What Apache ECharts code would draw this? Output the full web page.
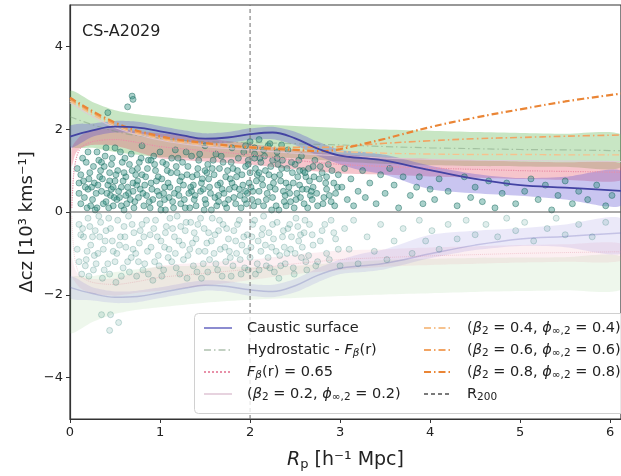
<!DOCTYPE html>
<html>
<head>
<meta charset="utf-8">
<script src="https://cdn.jsdelivr.net/npm/echarts@6/dist/echarts.min.js"></script>
<style>
  html, body { margin: 0; padding: 0; background: #fff; }
  #chart { width: 621px; height: 476px; }
</style>
</head>
<body>
<div id="chart"></div>
<script>
const FONT = "DejaVu Sans";

// axes
const xMax = 6.12;
const yMin = -5;
const yMax = 5;
const xTicks = [0, 1, 2, 3, 4, 5, 6];
const yTicks = [-4, -2, 0, 2, 4];
const r200 = 2;

// hydrostatic band (green), upper half; lower half is the mirror
const bandX = [0, 0.25, 0.5, 0.75, 1.0, 1.5, 2.0, 2.5, 3.0, 3.5, 4.0, 4.5, 5.0, 5.5, 6.12];
const hydroTop = [2.92, 2.66, 2.46, 2.36, 2.3, 2.19, 2.12, 2.08, 2.03, 1.99, 1.96, 1.93, 1.91, 1.89, 1.87];
const hydroLow = [1.6, 1.55, 1.45, 1.38, 1.32, 1.3, 1.33, 1.3, 1.22, 1.16, 1.13, 1.11, 1.1, 1.09, 1.08];

// F_beta band (red)
const fbX = [0.02, 0.06, 0.12, 0.25, 0.5, 0.75, 1.0, 1.5, 2.0, 2.5, 3.0, 3.5, 4.0, 4.5, 5.0, 5.5, 6.12];
const fbTop = [1.55, 1.7, 1.85, 1.97, 2.02, 1.95, 1.9, 1.78, 1.65, 1.5, 1.4, 1.32, 1.28, 1.25, 1.22, 1.2, 1.18];
const fbLow = [1.1, 1.4, 1.55, 1.62, 1.6, 1.45, 1.3, 1.22, 1.15, 1.03, 0.93, 0.9, 0.86, 0.83, 0.8, 0.78, 0.76];

// caustic surface and its band
const cX = [0, 0.25, 0.5, 0.75, 1.0, 1.25, 1.5, 1.75, 2.0, 2.25, 2.5, 2.75, 3.0, 3.25, 3.5, 4.0, 4.5, 5.0, 5.5, 6.12];
const causticLine = [1.82, 1.97, 2.06, 2.04, 1.95, 1.85, 1.77, 1.8, 1.88, 1.92, 1.78, 1.53, 1.36, 1.3, 1.24, 1.01, 0.8, 0.65, 0.59, 0.51];
const causticTop = [2.08, 2.14, 2.2, 2.18, 2.08, 1.98, 1.9, 1.93, 2.02, 2.06, 1.94, 1.7, 1.5, 1.45, 1.38, 1.12, 0.92, 0.82, 0.85, 1.0];
const causticLow = [1.55, 1.82, 1.92, 1.9, 1.82, 1.72, 1.65, 1.67, 1.74, 1.76, 1.62, 1.36, 1.15, 1.0, 0.9, 0.55, 0.45, 0.39, 0.3, 0.15];

// model lines
const lineX = [0, 0.5, 1, 1.5, 2, 2.5, 2.8, 3.0, 3.25, 3.5, 4, 4.5, 5, 5.5, 6.12];
const beta08 = [2.76, 2.16, 1.83, 1.67, 1.56, 1.5, 1.47, 1.52, 1.64, 1.77, 2.05, 2.28, 2.48, 2.67, 2.86];
const beta06 = [2.72, 2.12, 1.8, 1.65, 1.58, 1.56, 1.56, 1.58, 1.62, 1.66, 1.72, 1.77, 1.8, 1.83, 1.86];
const beta04 = [2.68, 2.08, 1.77, 1.62, 1.55, 1.5, 1.48, 1.46, 1.44, 1.42, 1.4, 1.39, 1.39, 1.38, 1.38];
const beta02 = [2.64, 2.04, 1.74, 1.58, 1.5, 1.42, 1.38, 1.36, 1.33, 1.3, 1.27, 1.25, 1.24, 1.23, 1.22];
const hydroLine = [2.3, 1.95, 1.78, 1.7, 1.68, 1.65, 1.63, 1.62, 1.6, 1.58, 1.55, 1.53, 1.51, 1.5, 1.48];

const fbLineX = [0.02, 0.04, 0.07, 0.12, 0.25, 0.5, 0.75, 1, 1.5, 2, 2.5, 3, 3.5, 4, 4.5, 5, 5.5, 6.12];
const fbLine = [0.1, 0.9, 1.3, 1.55, 1.7, 1.75, 1.68, 1.58, 1.48, 1.38, 1.25, 1.15, 1.1, 1.06, 1.03, 1.0, 0.98, 0.96];

// galaxies above and below the cluster redshift
const galaxiesUp = [
  [0.08,1.05],[0.1,0.45],[0.12,0.2],[0.15,0.75],[0.18,1.2],[0.2,0.55],[0.22,0.95],[0.25,0.3],[0.27,0.7],[0.3,1.45],
  [0.3,0.1],[0.33,0.85],[0.35,0.5],[0.38,1.1],[0.4,0.25],[0.42,0.65],[0.44,0.95],[0.45,0.4],[0.47,1.3],[0.48,0.15],
  [0.5,0.75],[0.5,1.55],[0.42,2.4],[0.53,1.0],[0.55,0.35],[0.57,0.6],[0.58,1.2],[0.6,0.05],[0.62,0.85],[0.64,2.54],
  [0.69,2.8],[0.7,2.72],[0.65,0.45],[0.68,1.4],[0.7,0.7],[0.72,0.25],[0.75,1.05],[0.78,0.55],[0.8,1.6],[0.8,0.9],
  [0.82,0.15],[0.85,0.4],[0.87,1.25],[0.9,0.7],[0.92,0.3],[0.95,1.0],[0.97,0.5],[1.0,1.45],[1.0,0.2],[1.02,0.8],
  [1.05,0.6],[1.07,1.15],[1.1,0.35],[1.12,0.95],[1.15,0.1],[1.17,1.5],[1.2,0.55],[1.22,0.75],[1.25,1.2],[1.27,0.3],
  [1.3,0.9],[1.32,0.45],[1.35,1.35],[1.37,0.65],[1.4,0.15],[1.42,1.05],[1.45,0.5],[1.47,0.8],[1.5,1.6],[1.5,0.3],
  [1.53,1.15],[1.55,0.6],[1.57,0.05],[1.6,0.9],[1.62,1.4],[1.65,0.4],[1.67,0.7],[1.7,1.2],[1.72,0.2],[1.75,1.0],
  [1.77,0.55],[1.8,1.55],[1.82,0.35],[1.85,0.85],[1.87,1.3],[1.9,0.1],[1.92,0.65],[1.95,1.1],[1.97,0.45],[2.0,0.95],
  [2.0,1.7],[2.02,0.3],[2.05,1.4],[2.07,0.75],[2.1,0.5],[2.12,1.2],[2.15,0.15],[2.17,1.0],[2.2,1.6],[2.22,0.6],
  [2.25,0.35],[2.27,0.85],[2.3,1.3],[2.32,0.05],[2.35,1.05],[2.37,0.5],[2.4,0.7],[2.42,1.5],[2.45,0.25],[2.47,0.95],
  [2.5,1.15],[2.52,0.45],[2.55,0.65],[2.57,1.35],[2.6,0.2],[2.62,0.85],[2.65,1.05],[2.67,0.4],[2.7,0.6],[2.72,1.25],
  [2.75,0.15],[2.77,0.8],[2.8,0.95],[2.82,0.35],[2.85,0.55],[2.87,1.15],[2.9,0.25],[2.93,0.7],[2.95,0.45],[2.98,0.9],
  [0.12,0.9],[0.16,0.35],[0.2,1.45],[0.24,0.6],[0.28,0.05],[0.32,1.25],[0.36,0.8],[0.4,1.55],[0.43,0.1],[0.46,0.55],
  [0.52,0.3],[0.56,1.45],[0.6,0.95],[0.63,0.2],[0.66,1.15],[0.7,0.5],[0.73,0.9],[0.76,0.35],[0.79,1.3],[0.83,0.65],
  [0.86,1.05],[0.89,0.1],[0.93,1.35],[0.96,0.75],[0.99,0.4],[1.03,1.2],[1.06,0.05],[1.09,0.7],[1.13,1.3],[1.16,0.45],
  [1.19,0.95],[1.23,0.2],[1.26,0.65],[1.29,1.45],[1.33,0.1],[1.36,0.85],[1.39,0.4],[1.43,1.25],[1.46,0.7],[1.49,0.05],
  [1.52,0.95],[1.56,0.45],[1.59,1.25],[1.63,0.15],[1.66,1.05],[1.69,0.55],[1.73,0.85],[1.76,0.3],[1.79,1.2],[1.83,0.6],
  [1.86,1.0],[1.89,0.4],[1.93,1.45],[1.96,0.2],[1.99,0.7],[2.03,0.5],[2.06,1.05],[2.09,0.25],[2.13,0.8],[2.16,1.35],
  [2.19,0.45],[2.23,1.1],[2.26,0.7],[2.29,0.15],[2.33,0.9],[2.36,1.25],[2.39,0.4],[2.43,0.6],[2.46,1.2],[2.49,0.1],
  [2.53,0.85],[2.56,0.35],[2.59,1.0],[2.63,0.55],[2.66,0.75],[2.69,0.3],
  [1.95,1.6],[2.05,1.55],[2.1,1.75],[2.15,1.5],[2.22,1.65],[2.3,1.45],[2.35,1.62],[2.05,1.3],[1.98,1.25],
  [0.1,0.7],[0.14,1.3],[0.19,0.1],[0.21,0.8],[0.26,1.1],[0.29,0.45],[0.31,0.65],[0.34,1.0],[0.37,0.2],[0.39,1.35],
  [0.41,0.45],[0.44,0.75],[0.46,1.15],[0.49,0.35],[0.51,0.9],[0.54,0.5],[0.57,0.15],[0.59,0.75],[0.61,1.3],[0.64,0.6],
  [0.67,0.3],[0.69,1.0],[0.71,0.1],[0.74,0.65],[0.77,1.2],[0.81,0.45],[0.84,0.85],[0.88,0.25],[0.91,0.55],[0.94,1.15],
  [0.98,0.85],[1.01,0.05],[1.04,0.45],[1.08,1.0],[1.11,0.6],[1.14,0.25],[1.18,1.1],[1.21,0.4],[1.24,0.85],[1.28,0.1],
  [1.31,1.1],[1.34,0.6],[1.38,0.3],[1.41,0.9],[1.44,1.4],[1.48,0.55],[1.51,0.2],[1.54,0.8],[1.58,1.05],[1.61,0.35],
  [1.64,0.65],[1.68,1.35],[1.71,0.45],[1.74,0.1],[1.78,0.8],[1.81,1.05],[1.84,0.2],[1.88,0.55],[1.91,0.9],[1.94,0.3],
  [1.98,1.15],[2.01,0.6],[2.04,0.15],[2.08,0.9],[2.11,1.3],[2.14,0.65],[2.18,0.3],[2.21,0.9],[2.24,0.05],[2.28,0.55],
  [2.31,1.15],[2.34,0.75],[2.38,0.25],[2.41,1.05],[2.44,0.45],[2.48,0.7],[2.51,0.3],[2.54,1.25],[2.58,0.55],[2.61,0.95],
  [2.64,0.1],[2.68,0.5],[2.71,0.85],[2.74,0.45],[2.78,1.1],[2.81,0.2],[2.84,0.7],[2.88,0.4],[2.91,1.0],[2.94,0.15],
  [2.97,0.6],[0.17,0.6],[0.23,0.15],[0.35,1.2],[0.48,0.6],[0.62,0.4],[0.75,0.75],[0.9,1.25],[1.05,0.3],[1.2,1.3],
  [1.35,0.5],[1.5,1.0],[1.65,0.25],[1.8,0.7],[1.95,0.5],[2.1,0.95],[2.25,1.25],[2.4,0.15],[2.55,1.0],[2.7,1.1],[2.85,0.85],
  [3.02,0.6],[3.05,1.05],[3.08,0.3],[3.12,0.8],[3.15,0.15],[3.2,0.5],[3.25,1.0],[3.28,0.35],[3.33,0.7],[3.4,0.2],
  [3.45,0.9],[3.5,0.45],[3.55,1.05],[3.6,0.65],[3.65,0.1],[3.7,0.85],[3.78,0.4],[3.85,0.6],[3.88,0.85],[3.92,0.2],
  [4.0,0.55],[4.05,0.3],[4.1,0.8],[4.2,0.5],[4.3,0.15],[4.38,0.85],[4.45,0.35],[4.5,0.6],[4.58,0.25],[4.65,0.75],
  [4.72,0.1],[4.8,0.45],[4.85,0.7],[4.95,0.2],[5.05,0.5],[5.12,0.8],[5.2,0.3],[5.28,0.65],[5.35,0.05],[5.42,0.4],
  [5.5,0.75],[5.58,0.2],[5.65,0.5],[5.75,0.3],[5.85,0.65],[5.95,0.15],[6.02,0.4]
];
const galaxiesDown = [
  [0.08,-0.9],[0.1,-0.3],[0.13,-1.5],[0.15,-0.6],[0.18,-1.15],[0.2,-0.15],[0.23,-0.8],[0.26,-1.4],[0.28,-0.45],[0.31,-1.0],
  [0.34,-0.25],[0.36,-1.6],[0.35,-2.48],[0.45,-2.48],[0.54,-2.67],[0.44,-2.86],[0.39,-0.7],[0.42,-1.25],[0.45,-0.4],[0.48,-0.95],
  [0.51,-1.7],[0.53,-0.2],[0.56,-0.6],[0.59,-1.35],[0.62,-0.85],[0.65,-0.1],[0.68,-1.1],[0.71,-0.5],[0.74,-1.55],[0.77,-0.75],
  [0.8,-0.3],[0.83,-1.25],[0.86,-0.95],[0.89,-0.55],[0.92,-1.65],[0.95,-0.2],[0.98,-1.05],[1.01,-0.7],[1.04,-1.4],[1.07,-0.35],
  [1.1,-0.9],[1.13,-1.2],[1.16,-0.6],[1.19,-0.1],[1.22,-1.5],[1.25,-0.8],[1.28,-0.45],[1.31,-1.05],[1.34,-0.25],[1.37,-1.3],
  [1.4,-0.65],[1.43,-0.95],[1.46,-1.6],[1.49,-0.4],[1.52,-0.75],[1.55,-1.15],[1.58,-0.15],[1.61,-0.55],[1.64,-1.4],[1.67,-0.9],
  [1.7,-0.3],[1.73,-1.2],[1.76,-0.65],[1.79,-1.55],[1.82,-0.45],[1.85,-1.0],[1.88,-0.2],[1.91,-0.8],[1.94,-1.35],[1.97,-0.55],
  [2.0,-1.1],[2.03,-0.3],[2.06,-1.5],[2.09,-0.7],[2.12,-0.95],[2.15,-0.1],[2.18,-1.3],[2.21,-0.5],[2.24,-0.85],[2.27,-1.45],
  [2.3,-0.25],[2.33,-1.05],[2.36,-0.6],[2.39,-1.25],[2.42,-0.4],[2.45,-0.9],[2.48,-1.35],[2.51,-0.15],[2.54,-0.7],[2.57,-1.1],
  [2.6,-0.5],[2.63,-1.4],[2.66,-0.3],[2.7,-0.8],[2.75,-1.2],[2.8,-0.45],[2.85,-1.0],[2.9,-0.2],[2.95,-0.65],[3.0,-1.3],
  [0.12,-0.55],[0.17,-1.3],[0.22,-0.35],[0.27,-1.05],[0.33,-0.6],[0.38,-1.4],[0.43,-0.15],[0.5,-1.2],[0.55,-0.8],[0.6,-0.35],
  [0.66,-1.45],[0.7,-0.9],[0.76,-1.2],[0.82,-0.6],[0.87,-1.5],[0.93,-0.4],[0.99,-1.3],[1.05,-0.85],[1.11,-0.15],[1.17,-1.0],
  [1.23,-0.35],[1.3,-1.6],[1.36,-0.75],[1.42,-0.3],[1.48,-1.25],[1.54,-0.5],[1.6,-1.0],[1.66,-0.2],[1.72,-0.85],[1.78,-1.1],
  [1.84,-0.7],[1.9,-1.5],[1.96,-0.95],[2.02,-0.6],[2.08,-1.25],[2.14,-0.4],[2.2,-1.1],[2.26,-0.65],[2.32,-1.6],[2.38,-0.85],
  [2.44,-0.3],[2.5,-1.0],[2.56,-0.55],[2.62,-1.2],
  [0.1,-1.2],[0.14,-0.4],[0.19,-0.95],[0.21,-1.55],[0.25,-0.6],[0.29,-1.25],[0.32,-0.1],[0.37,-0.9],[0.4,-0.45],[0.44,-1.5],
  [0.47,-0.7],[0.52,-1.0],[0.57,-1.55],[0.61,-0.6],[0.64,-1.2],[0.69,-0.3],[0.73,-1.0],[0.78,-0.45],[0.81,-1.4],[0.85,-0.2],
  [0.9,-0.85],[0.94,-1.2],[0.97,-0.6],[1.02,-1.55],[1.06,-0.5],[1.09,-1.1],[1.14,-0.4],[1.18,-1.35],[1.21,-0.7],[1.26,-1.15],
  [1.29,-0.25],[1.33,-0.9],[1.38,-0.5],[1.41,-1.45],[1.45,-0.15],[1.5,-0.95],[1.53,-1.45],[1.57,-0.7],[1.62,-1.25],[1.65,-0.45],
  [1.69,-1.55],[1.74,-0.4],[1.77,-0.95],[1.81,-1.3],[1.86,-0.3],[1.89,-1.15],[1.93,-0.6],[1.98,-1.4],[2.01,-0.85],[2.05,-0.2],
  [2.1,-1.4],[2.13,-0.55],[2.17,-0.8],[2.22,-1.35],[2.25,-0.3],[2.29,-0.95],[2.34,-1.3],[2.37,-0.45],[2.41,-1.0],[2.46,-0.6],
  [2.49,-1.5],[2.53,-0.35],[2.58,-0.85],[2.61,-0.2],[2.65,-1.05],[2.69,-0.55],[2.73,-1.3],[2.78,-0.7],[2.83,-0.3],[2.88,-1.15],
  [2.93,-0.5],[2.98,-0.9],
  [3.05,-0.4],[3.1,-0.9],[3.15,-0.2],[3.2,-1.25],[3.3,-0.6],[3.38,-0.95],[3.45,-0.3],[3.52,-1.15],[3.6,-0.7],[3.7,-0.4],
  [3.8,-1.0],[3.88,-0.2],[3.95,-0.7],[4.02,-0.45],[4.1,-0.9],[4.2,-0.3],[4.3,-0.65],[4.4,-0.2],[4.5,-0.55],[4.62,-0.3],
  [4.75,-0.6],[4.85,-0.15],[4.95,-0.45],[5.05,-0.25],[5.15,-0.7],[5.3,-0.4],[5.4,-0.15],[5.5,-0.55],[5.65,-0.3],[5.8,-0.6],
  [5.95,-0.25]
];

const legendLabels = {
  caustic: "Caustic surface",
  hydro: "Hydrostatic - {i|F}{isub|β}(r)",
  fb: "{i|F}{isub|β}(r) = 0.65",
  b02: "({i|β}{sub|2} = 0.2, {i|ϕ}{sub|∞,2} = 0.2)",
  b04: "({i|β}{sub|2} = 0.4, {i|ϕ}{sub|∞,2} = 0.4)",
  b06: "({i|β}{sub|2} = 0.6, {i|ϕ}{sub|∞,2} = 0.6)",
  b08: "({i|β}{sub|2} = 0.8, {i|ϕ}{sub|∞,2} = 0.8)",
  r200: "R{sub|200}",
};

const zip = (xs, ys, sign = 1) => xs.map((x, i) => [x, sign * ys[i]]);

// filled region between two curves, mapped through the chart's own axes
function band(id, xs, low, top, color, sign) {
  return {
    name: `_${id}`, type: "custom", silent: true, clip: true,
    data: xs.map((x, i) => [x, sign * low[i], sign * top[i]]),
    encode: { x: 0, y: [1, 2] },
    renderItem: (params, api) => {
      if (params.dataIndex !== 0) return null;
      const upper = xs.map((x, i) => api.coord([x, sign * top[i]]));
      const lower = xs.map((x, i) => api.coord([x, sign * low[i]])).reverse();
      return {
        type: "polygon",
        shape: { points: upper.concat(lower), smooth: 0.25 },
        style: { fill: color },
      };
    },
  };
}

function line(name, xs, ys, style, sign = 1, smooth = 0.4) {
  return {
    name, type: "line", data: zip(xs, ys, sign), smooth, symbol: "none",
    lineStyle: style, itemStyle: { color: style.color }, silent: true,
  };
}

const dashDot = [7, 3, 1.5, 3];

const series = [
  {
    name: "_galDown", type: "scatter", data: galaxiesDown, symbolSize: 6,
    itemStyle: { color: "rgba(60,150,135,0.2)", borderColor: "rgba(40,120,110,0.38)", borderWidth: 0.8 },
  },
  {
    name: "_galUp", type: "scatter", data: galaxiesUp, symbolSize: 6,
    itemStyle: { color: "rgba(40,140,125,0.5)", borderColor: "rgba(22,100,90,0.72)", borderWidth: 0.8 },
  },
  band("gD", bandX, hydroLow, hydroTop, "rgba(120,195,110,0.13)", -1),
  band("rD", fbX, fbLow, fbTop, "rgba(230,100,130,0.1)", -1),
  band("cD", cX, causticLow, causticTop, "rgba(110,100,215,0.14)", -1),
  band("gU", bandX, hydroLow, hydroTop, "rgba(110,190,100,0.38)", 1),
  band("rU", fbX, fbLow, fbTop, "rgba(230,90,110,0.35)", 1),
  band("cU", cX, causticLow, causticTop, "rgba(90,80,210,0.33)", 1),
  {
    name: "_zero", type: "line", data: [[0, 0], [xMax, 0]], symbol: "none",
    lineStyle: { color: "#555", width: 1.2 }, silent: true,
  },
  line("_causticD", cX, causticLine, { color: "rgba(80,80,170,0.25)", width: 1.5 }, -1),
  line("_fbD", fbLineX, fbLine, { color: "rgba(220,120,140,0.3)", width: 1, type: "dotted" }, -1, 0.3),
  line("hydro", lineX, hydroLine, { color: "rgba(120,150,120,0.45)", width: 1.2, type: dashDot }),
  line("b02", lineX, beta02, { color: "rgba(225,200,215,0.8)", width: 1.2 }),
  line("b04", lineX, beta04, { color: "#f6c28e", width: 1.4, type: dashDot }),
  line("b06", lineX, beta06, { color: "#f2a463", width: 1.6, type: dashDot }),
  line("b08", lineX, beta08, { color: "#ea8535", width: 2.2, type: dashDot }),
  line("fb", fbLineX, fbLine, { color: "#e890a8", width: 1.2, type: "dotted" }, 1, 0.3),
  line("caustic", cX, causticLine, { color: "#4343a3", width: 1.8 }),
  {
    name: "r200", type: "line", data: [[r200, yMin], [r200, yMax]], symbol: "none",
    lineStyle: { color: "#7a7a7a", width: 1.1, type: [4, 3] }, itemStyle: { color: "#7a7a7a" }, silent: true,
  },
];

const legendText = {
  fontFamily: FONT, fontSize: 14.5, color: "#222", lineHeight: 18,
  rich: {
    i: { fontFamily: FONT, fontSize: 14.5, fontStyle: "italic", lineHeight: 18, color: "#222" },
    sub: { fontFamily: FONT, fontSize: 10.5, lineHeight: 10, verticalAlign: "bottom", color: "#222" },
    isub: { fontFamily: FONT, fontSize: 10.5, fontStyle: "italic", lineHeight: 10, verticalAlign: "bottom", color: "#222" },
  },
};

const legendBase = {
  orient: "vertical", top: 319, itemWidth: 28, itemHeight: 14, itemGap: 4,
  padding: 0, selectedMode: false, formatter: (n) => legendLabels[n],
  itemStyle: { opacity: 0 },
  textStyle: { ...legendText, padding: [0, 0, 0, 10] },
};

const chart = echarts.init(document.getElementById("chart"), undefined, { renderer: "canvas" });
chart.setOption({
  animation: false,
  textStyle: { fontFamily: FONT },
  grid: { left: 70, right: -3, top: 5, bottom: 54, show: true, borderColor: "#333", borderWidth: 1.2, backgroundColor: "transparent" },
  title: {
    text: "CS-A2029", left: 82, top: 24, padding: 0,
    textStyle: { fontFamily: FONT, fontSize: 16, fontWeight: "normal", color: "#222" },
  },
  graphic: [
    {
      type: "rect", left: 194, top: 313, z: 90,
      shape: { width: 440, height: 100, r: 4 },
      style: { fill: "rgba(255,255,255,0.82)", stroke: "#d0d0d0", lineWidth: 1 },
    },
    {
      type: "text", x: 27, y: 222, rotation: Math.PI / 2, z: 100,
      style: {
        text: "Δcz [10³ kms⁻¹]", font: `18px "${FONT}"`, fill: "#222",
        align: "center", verticalAlign: "middle",
      },
    },
  ],
  legend: [
    { ...legendBase, left: 203, data: ["caustic", "hydro", "fb", "b02"].map((name) =>
        name === "caustic" ? { name, lineStyle: { color: "#8c8cd0", width: 2 } } : { name }), z: 100 },
    { ...legendBase, left: 423, data: ["b04", "b06", "b08", "r200"], z: 100 },
  ],
  xAxis: {
    type: "value", min: 0, max: xMax,
    name: "{i|R}{s|p} [h⁻¹ Mpc]", nameLocation: "middle", nameGap: 30,
    nameTextStyle: {
      fontFamily: FONT, fontSize: 19, color: "#222", lineHeight: 22,
      rich: {
        i: { fontFamily: FONT, fontSize: 19, fontStyle: "italic", color: "#222", lineHeight: 22 },
        s: { fontFamily: FONT, fontSize: 13, color: "#222", lineHeight: 12, verticalAlign: "bottom" },
      },
    },
    axisLine: { show: true, onZero: false, lineStyle: { color: "#333", width: 1.2 } },
    axisTick: { show: true, length: 4, customValues: xTicks, lineStyle: { color: "#333" } },
    axisLabel: { customValues: xTicks, color: "#222", fontSize: 13, margin: 7, fontFamily: FONT },
    splitLine: { show: false },
  },
  yAxis: {
    type: "value", min: yMin, max: yMax,
    axisLine: { show: true, onZero: false, lineStyle: { color: "#333", width: 1.2 } },
    axisTick: { show: true, length: 4, customValues: yTicks, lineStyle: { color: "#333" } },
    axisLabel: {
      customValues: yTicks, color: "#222", fontSize: 13, margin: 7, fontFamily: FONT,
      formatter: (v) => String(v).replace("-", "−"),
    },
    splitLine: { show: false },
  },
  series,
});
</script>
</body>
</html>
